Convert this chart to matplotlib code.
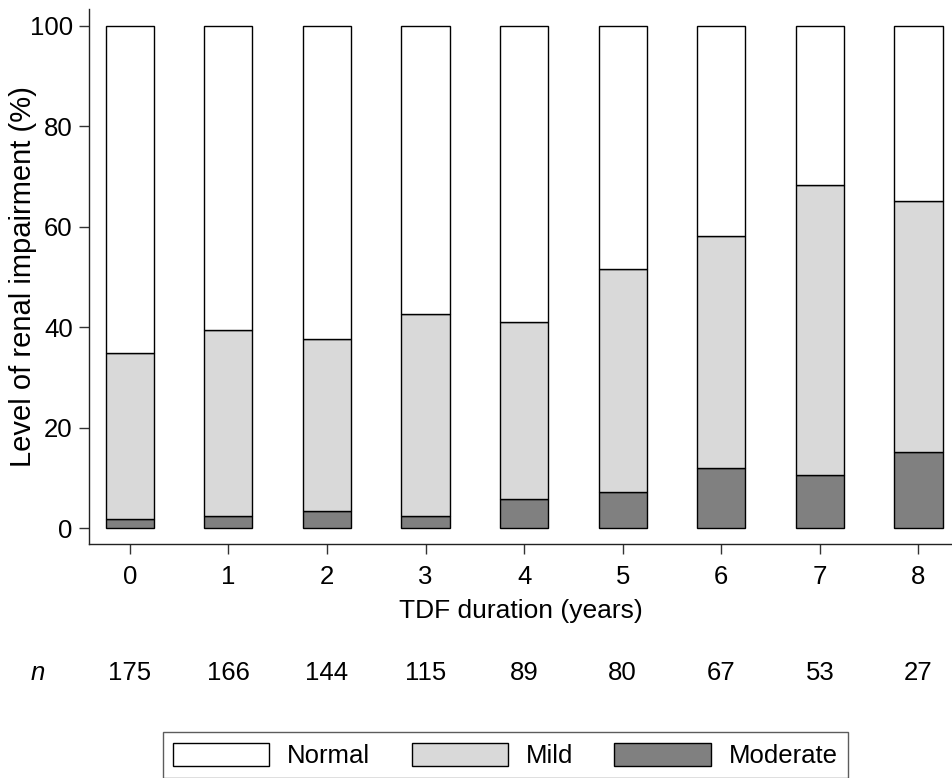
import matplotlib
matplotlib.use("Agg")
import matplotlib.pyplot as plt
import matplotlib.transforms as mtransforms
import numpy as np

plt.rcParams["font.family"] = ["Liberation Sans", "DejaVu Sans"]

# data
years = [0, 1, 2, 3, 4, 5, 6, 7, 8]
n_counts = [175, 166, 144, 115, 89, 80, 67, 53, 27]
moderate = [1.8, 2.5, 3.4, 2.5, 5.9, 7.2, 12.0, 10.5, 15.2]
mild_cum = [34.8, 39.5, 37.7, 42.6, 41.1, 51.5, 58.2, 68.3, 65.1]
mild = [m - d for m, d in zip(mild_cum, moderate)]
normal = [100 - m for m in mild_cum]

colors = {"Normal": "white", "Mild": "#d9d9d9", "Moderate": "#808080"}

fig = plt.figure(figsize=(9.53, 7.78), dpi=100)
ax = fig.add_axes([89.3 / 953, 1 - 544.3 / 778, 1 - 89.3 / 953, (544.3 - 9) / 778])

x = np.array(years)
w = 0.49
b_mod = ax.bar(x, moderate, w, color=colors["Moderate"], edgecolor="black", lw=1)
b_mild = ax.bar(x, mild, w, bottom=moderate, color=colors["Mild"], edgecolor="black", lw=1)
b_norm = ax.bar(x, normal, w, bottom=mild_cum, color=colors["Normal"], edgecolor="black", lw=1)

ax.set_xlim(-0.41, 8.35)
ax.set_ylim(-3.2, 103.3)
ax.set_xticks(years)
ax.set_yticks([0, 20, 40, 60, 80, 100])
ax.tick_params(axis="both", labelsize=18.5, length=7, width=1, color="#333333")
ax.tick_params(axis="y", pad=5)
ax.tick_params(axis="x", pad=8)
for s in ["top", "right"]:
    ax.spines[s].set_visible(False)
for s in ["left", "bottom"]:
    ax.spines[s].set_linewidth(1)
    ax.spines[s].set_color("#222222")

ax.set_xlabel("TDF duration (years)", fontsize=19, labelpad=7)
ax.set_ylabel("Level of renal impairment (%)", fontsize=21)
ax.yaxis.set_label_coords(-0.06, 0.5)

# n row below the axis
trans = mtransforms.blended_transform_factory(ax.transData, fig.transFigure)
ny = 1 - 673 / 778
fig.text(38 / 953, ny, "n", fontsize=18.5, style="italic", ha="center", va="center")
for xi, nc in zip(x, n_counts):
    ax.text(xi, ny, str(nc), fontsize=18.5, ha="center", va="center", transform=trans)

leg = fig.legend([b_norm, b_mild, b_mod], ["Normal", "Mild", "Moderate"],
                 loc="upper left", bbox_to_anchor=(162.7 / 953, 1 - 732.3 / 778),
                 bbox_transform=fig.transFigure, ncol=3, fontsize=18.5,
                 handlelength=3.75, handleheight=1.0, handletextpad=0.7,
                 columnspacing=1.6, borderpad=0.4, borderaxespad=0,
                 fancybox=False, frameon=True)
leg.get_frame().set_edgecolor("#333333")
leg.get_frame().set_linewidth(1)

fig.savefig("out.png", dpi=100)
